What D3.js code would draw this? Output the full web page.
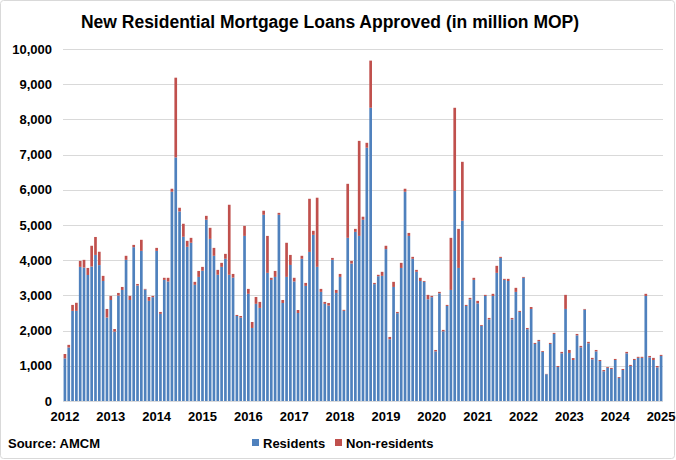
<!DOCTYPE html>
<html>
<head>
<meta charset="utf-8">
<script src="https://cdn.jsdelivr.net/npm/d3@7"></script>
<style>
  html, body { margin: 0; padding: 0; background: #fff; }
  svg { display: block; }
  text { font-family: "Liberation Sans", Arial, sans-serif; font-weight: bold; fill: #000; }
</style>
</head>
<body>
<svg id="chart" width="676" height="460"></svg>
<script>
// Monthly data, Jan 2012 – Jan 2025 (million MOP)
const startYear = 2012;
const yearLabels = ["2012","2013","2014","2015","2016","2017","2018","2019","2020","2021","2022","2023","2024","2025"];
const seriesNames = ["Residents", "Non-residents"];
const residents = [
  1210,1520,2560,2560,3810,3790,3580,3820,4150,3860,3410,2370,
  2870,1970,2995,3155,4010,2870,4370,3280,4265,3165,2845,2950,
  4265,2475,3440,3395,5945,6920,5385,4665,4380,4495,3300,3525,
  3700,5150,4605,4125,3585,3810,4040,3585,3505,2415,2370,4690,
  3045,2075,2760,2645,5290,3640,3440,3525,5290,2785,3525,3865,
  3395,2500,4040,3270,4235,4720,3810,3100,2760,2710,4010,3070,
  3525,2560,4635,3905,4805,4690,5150,7195,8330,3320,3545,3555,
  4315,1755,3240,2495,3780,5945,4690,4040,3670,3410,3385,2890,
  2950,1410,3060,1980,2700,3155,5970,3780,5120,2700,2890,3440,
  2775,2135,2985,2320,2985,3640,4065,3440,3410,2320,3100,2530,
  3500,2040,2615,1620,1700,1395,760,1620,1905,965,1355,2615,
  1365,1165,1865,1525,2595,1640,1185,1410,1135,845,940,910,
  1165,655,880,1355,995,1165,1225,1225,2985,1240,1165,955,
  1280
];
const nonResidents = [
  125,75,170,230,170,220,200,590,510,380,145,245,
  115,75,75,85,115,115,65,45,315,20,110,35,
  85,55,60,105,85,2265,105,370,170,140,85,170,
  110,110,315,225,140,115,140,1990,105,30,45,285,
  140,170,195,170,115,1050,60,170,55,85,970,285,
  105,85,85,85,1510,115,1965,85,55,75,55,85,
  85,30,1535,75,85,2700,85,140,1340,35,40,115,
  95,65,145,35,145,85,85,55,55,90,25,125,
  35,40,40,40,30,1480,2360,1110,1675,30,40,60,
  70,25,30,40,60,200,30,30,60,40,115,30,
  25,35,55,30,35,25,10,30,30,30,40,400,
  85,55,40,40,20,40,40,40,30,35,25,30,
  30,25,30,40,30,30,30,30,60,40,60,40,
  30
];
const yTicks = [0,1000,2000,3000,4000,5000,6000,7000,8000,9000,10000];

const colors = { "Residents": "#4F81BD", "Non-residents": "#C0504D" };

const svg = d3.select("#chart");
const W = 676, H = 460;
const margin = { left: 63, right: 13, top: 49, bottom: 59 };
const plotL = margin.left, plotR = W - margin.right;
const plotT = margin.top, plotB = H - margin.bottom;

// border
svg.append("rect").attr("x", 0.5).attr("y", 0.5).attr("width", W - 2).attr("height", H - 2)
  .attr("rx", 3).attr("fill", "#fff").attr("stroke", "#d9d9d9");

const months = d3.range(residents.length);
const rows = months.map(i => ({ i, Residents: residents[i], "Non-residents": nonResidents[i] }));

const x = d3.scaleBand().domain(months).range([plotL, plotR]).paddingInner(0.3).paddingOuter(0.15);
const y = d3.scaleLinear().domain([0, 10000]).range([plotB, plotT]);

// gridlines
svg.append("g").selectAll("line").data(yTicks).join("line")
  .attr("x1", plotL).attr("x2", plotR)
  .attr("y1", d => Math.round(y(d)) + 0.5).attr("y2", d => Math.round(y(d)) + 0.5)
  .attr("stroke", "#d9d9d9").attr("stroke-width", 1);

// y axis labels
const yAxis = d3.axisLeft(y).tickValues(yTicks).tickFormat(d3.format(",")).tickSize(0).tickPadding(11);
const gy = svg.append("g").attr("transform", `translate(${plotL},0)`).call(yAxis);
gy.select(".domain").remove();
gy.selectAll("text").attr("font-size", 13).attr("font-family", "Liberation Sans, Arial, sans-serif").attr("font-weight", "bold");

// stacked bars
const stack = d3.stack().keys(seriesNames)(rows);
svg.append("g").selectAll("g").data(stack).join("g")
  .attr("fill", d => colors[d.key])
  .selectAll("rect").data(d => d).join("rect")
  .attr("x", d => x(d.data.i))
  .attr("width", x.bandwidth())
  .attr("y", d => y(d[1]))
  .attr("height", d => Math.max(0, y(d[0]) - y(d[1])));

// x axis labels (January of each year)
const janIdx = yearLabels.map((yl, k) => k * 12).filter(i => i < residents.length);
const xAxis = d3.axisBottom(x).tickValues(janIdx)
  .tickFormat(i => yearLabels[Math.floor(i / 12)]).tickSize(0).tickPadding(11);
const gx = svg.append("g").attr("transform", `translate(0,${plotB})`).call(xAxis);
gx.select(".domain").remove();
gx.selectAll("text").attr("font-size", 13).attr("font-family", "Liberation Sans, Arial, sans-serif").attr("font-weight", "bold");

// title
svg.append("text").attr("x", 330).attr("y", 28).attr("text-anchor", "middle")
  .attr("font-size", 17.5).text("New Residential Mortgage Loans Approved (in million MOP)");

// source
svg.append("text").attr("x", 8).attr("y", 448).attr("font-size", 13).text("Source: AMCM");

// legend
const legendItems = [
  { name: "Residents", x: 252 },
  { name: "Non-residents", x: 335 }
];
const lg = svg.append("g");
legendItems.forEach(it => {
  lg.append("rect").attr("x", it.x).attr("y", 439).attr("width", 7).attr("height", 7).attr("fill", colors[it.name]);
  lg.append("text").attr("x", it.x + 11).attr("y", 448).attr("font-size", 13).text(it.name);
});
</script>
</body>
</html>
